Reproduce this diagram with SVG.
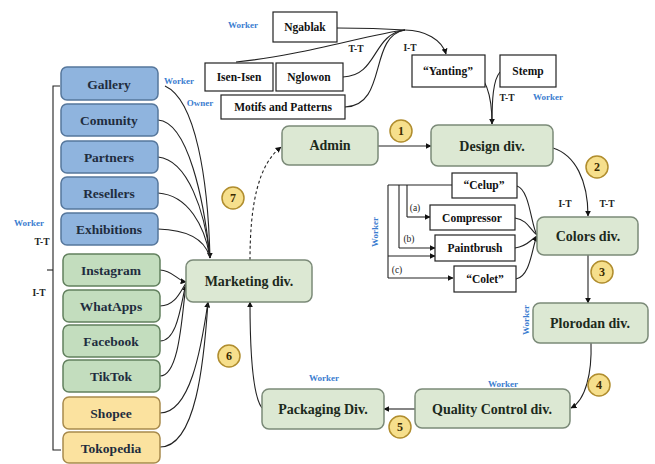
<svg xmlns="http://www.w3.org/2000/svg" width="655" height="464" viewBox="0 0 655 464" font-family="'Liberation Serif', 'Times New Roman', 'DejaVu Serif', serif" font-weight="bold">
  <defs>
    <marker id="arr" viewBox="0 0 10 10" refX="9" refY="5" markerWidth="6" markerHeight="6" orient="auto-start-reverse" markerUnits="userSpaceOnUse">
      <path d="M0,0 L10,5 L0,10 z" fill="#111"/>
    </marker>
    <style>
      text { font-family: 'Liberation Serif', 'Times New Roman', 'DejaVu Serif', serif; font-weight: bold; }
      .div rect { fill: #dce8d3; stroke: #7b8a78; stroke-width: 1.5; }
      .blue rect { fill: #8fb4de; stroke: #56779c; stroke-width: 1.5; }
      .green rect { fill: #c3ddbe; stroke: #62805e; stroke-width: 1.5; }
      .yellow rect { fill: #fbe29f; stroke: #a88a4c; stroke-width: 1.5; }
      .plain rect { fill: #fff; stroke: #222; stroke-width: 1.2; }
      .lbl { font-size: 14px; fill: #1c2a1c; text-anchor: middle; dominant-baseline: central; }
      .lbl-s { font-size: 13.5px; fill: #1f2d3e; text-anchor: middle; dominant-baseline: central; }
      .lbl-w { font-size: 11.5px; fill: #111; text-anchor: middle; dominant-baseline: central; }
      .role { font-size: 9px; fill: #3b7dd0; text-anchor: middle; dominant-baseline: central; }
      .tt { font-size: 9.5px; fill: #222; text-anchor: middle; dominant-baseline: central; }
      .step circle { fill: #f6df8c; stroke: #b08d2e; stroke-width: 1.5; }
      .step text { font-size: 12px; fill: #3a2a00; text-anchor: middle; dominant-baseline: central; }
      .con path, .con line { fill: none; stroke: #222; stroke-width: 1.1; }
    </style>
  </defs>

  <rect width="655" height="464" fill="#fff"/>

  <!-- connectors -->
  <g id="connectors" class="con">
    <!-- sources into "Yanting" -->
    <path d="M337,28 C370,28 390,29 405,30"/>
    <path d="M236,62 C300,56 370,34 405,30"/>
    <path d="M343,77 C378,76 372,34 405,30"/>
    <path d="M345,107 C388,106 368,36 405,30"/>
    <path d="M405,30 C425,30 442,40 446,54" marker-end="url(#arr)"/>
    <!-- "Yanting" and Stemp into Design div. -->
    <path d="M472,70 C486,76 492,96 492,124" marker-end="url(#arr)"/>
    <path d="M500,72 C493,80 492,100 492,124"/>
    <!-- main flow -->
    <line x1="378" y1="146" x2="431" y2="146" marker-end="url(#arr)"/>
    <path d="M553,148 C575,155 588,180 588,216" marker-end="url(#arr)"/>
    <line x1="588" y1="255" x2="588" y2="303" marker-end="url(#arr)"/>
    <path d="M591,343 C592,372 586,400 571,408" marker-end="url(#arr)"/>
    <line x1="415" y1="409" x2="384" y2="409" marker-end="url(#arr)"/>
    <path d="M262,408 C252,395 250,340 250,302" marker-end="url(#arr)"/>
    <path d="M250,260 C250,205 258,165 281,147" stroke-dasharray="3,2.5" marker-end="url(#arr)"/>
    <!-- tool tree feeding the colour boxes -->
    <line x1="388" y1="185" x2="388" y2="278"/>
    <line x1="399" y1="185" x2="399" y2="248"/>
    <line x1="407" y1="185" x2="407" y2="217"/>
    <line x1="388" y1="185" x2="452" y2="185"/>
    <line x1="407" y1="217" x2="430" y2="217" marker-end="url(#arr)"/>
    <line x1="399" y1="248" x2="435" y2="248" marker-end="url(#arr)"/>
    <line x1="388" y1="256" x2="435" y2="256" marker-end="url(#arr)"/>
    <line x1="388" y1="278" x2="453" y2="278" marker-end="url(#arr)"/>
    <!-- colour boxes into Colors div. -->
    <path d="M517,186 C530,190 531,226 537,235"/>
    <path d="M515,218 C528,220 530,230 537,235"/>
    <path d="M515,248 C528,246 530,240 537,236"/>
    <path d="M516,279 C531,276 532,246 537,236" marker-end="url(#arr)"/>
    <!-- left column into Marketing div. -->
    <path d="M165,86 C196,100 208,180 210,258" marker-end="url(#arr)"/>
    <path d="M158,120 C188,122 204,200 210,258"/>
    <path d="M158,157 C188,160 205,212 210,258"/>
    <path d="M158,193 C188,195 205,226 210,258"/>
    <path d="M158,229 C192,230 206,242 210,258"/>
    <path d="M160,270 C172,270 178,281 186,282" marker-end="url(#arr)"/>
    <path d="M160,306 C175,306 180,292 186,283"/>
    <path d="M160,341 C178,341 181,302 186,284"/>
    <path d="M160,376 C180,376 182,312 186,285" marker-end="url(#arr)"/>
    <path d="M160,413 C190,413 201,350 208,302" marker-end="url(#arr)"/>
    <path d="M160,447 C196,447 204,362 208,302"/>
    <!-- bracket along the left column -->
    <path d="M60,86 L53,86 L53,450 L61,450"/>
    <line x1="47" y1="270" x2="53" y2="270"/>
  </g>

  <!-- labels on connectors -->
  <text class="role" x="243" y="25">Worker</text>
  <text class="role" x="179" y="81">Worker</text>
  <text class="role" x="200" y="103">Owner</text>
  <text class="role" x="548" y="97">Worker</text>
  <text class="role" x="29" y="223">Worker</text>
  <text class="role" x="375" y="232" transform="rotate(-90 375 232)">Worker</text>
  <text class="role" x="526" y="320" transform="rotate(-90 526 320)">Worker</text>
  <text class="role" x="503" y="384">Worker</text>
  <text class="role" x="324" y="378">Worker</text>
  <text class="tt" x="356" y="49">T-T</text>
  <text class="tt" x="410" y="48">I-T</text>
  <text class="tt" x="507" y="98">T-T</text>
  <text class="tt" x="565" y="204">I-T</text>
  <text class="tt" x="607" y="204">T-T</text>
  <text class="tt" x="42" y="242">T-T</text>
  <text class="tt" x="39" y="293">I-T</text>
  <text class="tt" x="415" y="208" font-weight="normal" style="font-weight:normal">(a)</text>
  <text class="tt" x="409" y="239" style="font-weight:normal">(b)</text>
  <text class="tt" x="397" y="270" style="font-weight:normal">(c)</text>

  <!-- step markers -->
  <g class="step">
    <circle cx="401" cy="131" r="11"/><text x="401" y="131">1</text>
    <circle cx="597" cy="167" r="11"/><text x="597" y="167">2</text>
    <circle cx="602" cy="272" r="11"/><text x="602" y="272">3</text>
    <circle cx="599" cy="385" r="11"/><text x="599" y="385">4</text>
    <circle cx="400" cy="427" r="11"/><text x="400" y="427">5</text>
    <circle cx="229" cy="356" r="11"/><text x="229" y="356">6</text>
    <circle cx="233" cy="198" r="11"/><text x="233" y="198">7</text>
  </g>

  <!-- motif sources -->
  <g id="ngablak" class="plain"><rect x="273" y="12" width="64" height="30"/><text class="lbl-w" x="305" y="27">Ngablak</text></g>
  <g id="isen-isen" class="plain"><rect x="205" y="63" width="68" height="28"/><text class="lbl-w" x="239" y="77">Isen-Isen</text></g>
  <g id="nglowon" class="plain"><rect x="276" y="63" width="67" height="28"/><text class="lbl-w" x="309" y="77">Nglowon</text></g>
  <g id="motifs" class="plain"><rect x="221" y="95" width="124" height="24"/><text class="lbl-w" x="283" y="107">Motifs and Patterns</text></g>
  <g id="yanting" class="plain"><rect x="412" y="55" width="73" height="32"/><text class="lbl-w" x="448" y="71">“Yanting”</text></g>
  <g id="stemp" class="plain"><rect x="500" y="55" width="56" height="32"/><text class="lbl-w" x="528" y="71">Stemp</text></g>

  <!-- colouring tools -->
  <g id="celup" class="plain"><rect x="452" y="173" width="65" height="25"/><text class="lbl-w" x="484" y="185">“Celup”</text></g>
  <g id="compressor" class="plain"><rect x="430" y="205" width="85" height="25"/><text class="lbl-w" x="472" y="218">Compressor</text></g>
  <g id="paintbrush" class="plain"><rect x="435" y="235" width="80" height="26"/><text class="lbl-w" x="475" y="248">Paintbrush</text></g>
  <g id="colet" class="plain"><rect x="454" y="266" width="62" height="26"/><text class="lbl-w" x="485" y="279">“Colet”</text></g>

  <!-- production divisions -->
  <g id="admin" class="div"><rect x="282" y="126" width="96" height="39" rx="7"/><text class="lbl" x="330" y="145">Admin</text></g>
  <g id="design" class="div"><rect x="431" y="125" width="122" height="41" rx="7"/><text class="lbl" x="492" y="146">Design div.</text></g>
  <g id="colors" class="div"><rect x="537" y="217" width="101" height="38" rx="7"/><text class="lbl" x="588" y="236">Colors div.</text></g>
  <g id="plorodan" class="div"><rect x="533" y="303" width="115" height="40" rx="7"/><text class="lbl" x="590" y="323">Plorodan div.</text></g>
  <g id="quality" class="div"><rect x="415" y="389" width="155" height="39" rx="7"/><text class="lbl" x="492" y="409">Quality Control div.</text></g>
  <g id="packaging" class="div"><rect x="262" y="389" width="122" height="40" rx="7"/><text class="lbl" x="323" y="409">Packaging Div.</text></g>
  <g id="marketing" class="div"><rect x="186" y="260" width="126" height="42" rx="7"/><text class="lbl" x="249" y="281">Marketing div.</text></g>

  <!-- partners and channels -->
  <g id="gallery" class="blue"><rect x="61" y="67" width="97" height="33" rx="6"/><text class="lbl-s" x="109" y="84">Gallery</text></g>
  <g id="comunity" class="blue"><rect x="61" y="104" width="97" height="32" rx="6"/><text class="lbl-s" x="109" y="120">Comunity</text></g>
  <g id="partners" class="blue"><rect x="61" y="141" width="97" height="32" rx="6"/><text class="lbl-s" x="109" y="157">Partners</text></g>
  <g id="resellers" class="blue"><rect x="61" y="177" width="97" height="32" rx="6"/><text class="lbl-s" x="109" y="193">Resellers</text></g>
  <g id="exhibitions" class="blue"><rect x="61" y="213" width="97" height="32" rx="6"/><text class="lbl-s" x="109" y="229">Exhibitions</text></g>
  <g id="instagram" class="green"><rect x="63" y="254" width="97" height="32" rx="6"/><text class="lbl-s" x="111" y="270">Instagram</text></g>
  <g id="whatapps" class="green"><rect x="63" y="290" width="97" height="32" rx="6"/><text class="lbl-s" x="111" y="306">WhatApps</text></g>
  <g id="facebook" class="green"><rect x="63" y="325" width="97" height="32" rx="6"/><text class="lbl-s" x="111" y="341">Facebook</text></g>
  <g id="tiktok" class="green"><rect x="63" y="360" width="97" height="32" rx="6"/><text class="lbl-s" x="111" y="376">TikTok</text></g>
  <g id="shopee" class="yellow"><rect x="63" y="397" width="97" height="32" rx="6"/><text class="lbl-s" x="111" y="413">Shopee</text></g>
  <g id="tokopedia" class="yellow"><rect x="63" y="432" width="97" height="31" rx="6"/><text class="lbl-s" x="111" y="448">Tokopedia</text></g>
</svg>
